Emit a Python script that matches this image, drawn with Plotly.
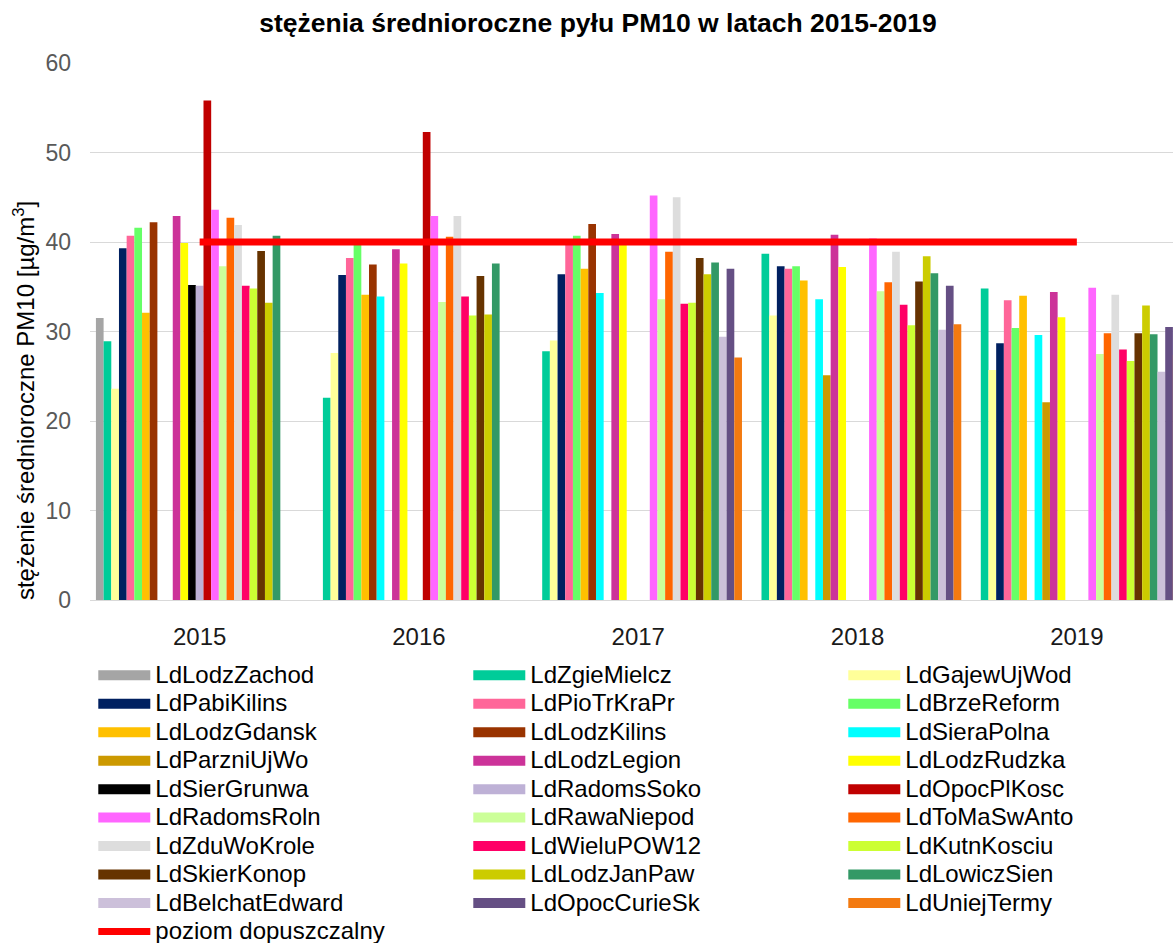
import plotly.graph_objects as go

years = ["2015", "2016", "2017", "2018", "2019"]

stations = [
    "LdLodzZachod", "LdZgieMielcz", "LdGajewUjWod",
    "LdPabiKilins", "LdPioTrKraPr", "LdBrzeReform",
    "LdLodzGdansk", "LdLodzKilins", "LdSieraPolna",
    "LdParzniUjWo", "LdLodzLegion", "LdLodzRudzka",
    "LdSierGrunwa", "LdRadomsSoko", "LdOpocPlKosc",
    "LdRadomsRoln", "LdRawaNiepod", "LdToMaSwAnto",
    "LdZduWoKrole", "LdWieluPOW12", "LdKutnKosciu",
    "LdSkierKonop", "LdLodzJanPaw", "LdLowiczSien",
    "LdBelchatEdward", "LdOpocCurieSk", "LdUniejTermy",
]

colors = [
    "#A5A5A5", "#00CC99", "#FFFF99",
    "#002060", "#FF6699", "#66FF66",
    "#FFC000", "#993300", "#00FFFF",
    "#CC9900", "#CC3399", "#FFFF00",
    "#000000", "#BEB1D6", "#C00000",
    "#FF66FF", "#CCFF99", "#FF6600",
    "#DDDDDD", "#FF0066", "#CCFF33",
    "#663300", "#CCCC00", "#339966",
    "#CCC0DA", "#654F84", "#F37A10",
]

N = None
v2015 = [31.5, 28.9, 23.6, 39.3, 40.7, 41.6, 32.1, 42.2, N, N, 42.9, 39.9, 35.2, 35.1, 55.8,
         43.6, 37.3, 42.7, 41.9, 35.1, 34.8, 39.0, 33.2, 40.7, N, N, N]
v2016 = [N, 22.6, 27.6, 36.3, 38.2, 39.7, 34.1, 37.5, 33.9, N, 39.2, 37.6, N, N, 52.3,
         42.9, 33.3, 40.6, 42.9, 33.9, 31.8, 36.2, 31.9, 37.6, N, N, N]
v2017 = [N, 27.8, 29.0, 36.4, 39.9, 40.7, 37.0, 42.0, 34.3, N, 40.9, 39.7, N, N, N,
         45.2, 33.6, 38.9, 45.0, 33.1, 33.2, 38.2, 36.4, 37.7, 29.4, 37.0, 27.1]
v2018 = [N, 38.7, 31.8, 37.3, 37.0, 37.3, 35.7, N, 33.6, 25.1, 40.8, 37.2, N, N, N,
         40.4, 34.5, 35.5, 38.9, 33.0, 30.7, 35.6, 38.4, 36.5, 30.2, 35.1, 30.8]
v2019 = [N, 34.8, 25.7, 28.7, 33.5, 30.4, 34.0, N, 29.6, 22.1, 34.4, 31.6, N, N, N,
         34.9, 27.5, 29.8, 34.1, 28.0, 26.7, 29.8, 32.9, 29.7, 25.5, 30.5, 27.4]

limit_name = "poziom dopuszczalny"
limit_values = [40, 40, 40, 40, 40]

title_text = "stężenia średnioroczne pyłu PM10 w latach 2015-2019"
y_title = "stężenie średnioroczne PM10 [µg/m<sup>3</sup>]"

FONT = "Liberation Sans, Arial, sans-serif"
W, H = 1173, 943
ML, MT, MB = 90, 62.7, 343
PH = H - MT - MB

by_year = [v2015, v2016, v2017, v2018, v2019]

fig = go.Figure()
for i, name in enumerate(stations):
    vals = [yr[i] for yr in by_year]
    fig.add_trace(go.Bar(
        x=years, y=vals, name=name, marker_color=colors[i],
        marker_line_width=0, showlegend=False, legendgroup=name,
    ))

# legend entries (wide rectangular keys)
for i, name in enumerate(stations):
    fig.add_trace(go.Scatter(
        x=[None], y=[None], mode="lines",
        line=dict(color=colors[i], width=12.7),
        name=f'<span style="font-size:24px">{name}</span>',
        legendgroup=name, showlegend=True, hoverinfo="skip",
    ))

fig.add_trace(go.Scatter(
    x=years, y=limit_values, mode="lines",
    line=dict(color="#FF0000", width=7),
    name=f'<span style="font-size:24px">{limit_name}</span>',
))

plot_w = W - ML
cat_w = 219.3
x_hi = -0.5 + plot_w / cat_w

fig.update_layout(
    width=W, height=H,
    margin=dict(l=ML, r=0, t=MT, b=MB, autoexpand=False),
    paper_bgcolor="white", plot_bgcolor="white",
    barmode="group", bargap=0.054, bargroupgap=0,
    font=dict(family=FONT, color="#000000"),
    title=dict(
        text=title_text, x=598 / W, xanchor="center", xref="container",
        y=1 - 23 / H, yanchor="middle", yref="container",
        font=dict(family=FONT, size=26.5, color="#000000", weight="bold"),
    ),
    xaxis=dict(
        type="category", range=[-0.5, x_hi], showgrid=False,
        showline=True, linecolor="#D9D9D9", linewidth=1.3,
        ticks="", ticklabelstandoff=15,
        tickfont=dict(family=FONT, size=24, color="#1A1A1A"),
        zeroline=False,
    ),
    yaxis=dict(
        range=[0, 60], dtick=10, showgrid=True, gridcolor="#D9D9D9", gridwidth=1.3,
        zeroline=False, showline=False, ticks="", ticklabelstandoff=18,
        tickfont=dict(family=FONT, size=23, color="#595959"),
    ),
    legend=dict(
        orientation="h", x=-0.0001, xanchor="left", y=(600 - 656) / PH,
        yanchor="top", entrywidth=304.6, entrywidthmode="pixels",
        itemwidth=52, indentation=3.4, font=dict(family=FONT, size=19.6, color="#000000"),
        bgcolor="rgba(0,0,0,0)", traceorder="normal", tracegroupgap=0,
    ),
    annotations=[dict(
        text=y_title, textangle=-90, showarrow=False,
        xref="paper", yref="paper",
        x=(24 - ML) / plot_w, xanchor="center",
        y=(600 - 401) / PH, yanchor="middle",
        font=dict(family=FONT, size=24, color="#000000"),
    )],
)

fig.write_html("out.html", config={"displayModeBar": False},
               post_script="document.body.style.margin='0px';")
